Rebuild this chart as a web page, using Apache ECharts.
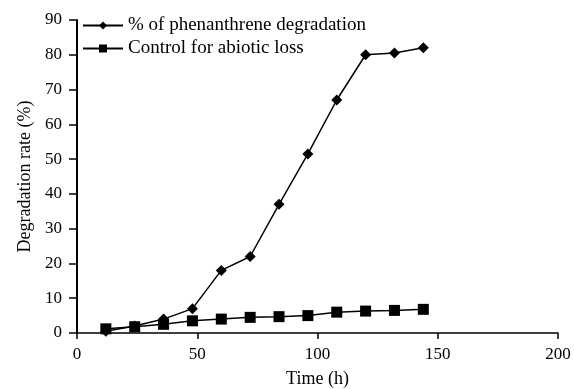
<!DOCTYPE html>
<html>
<head>
<meta charset="utf-8">
<script src="https://cdn.jsdelivr.net/npm/echarts@6/dist/echarts.min.js"></script>
<style>
  html, body { margin: 0; padding: 0; background: #fff; }
  #chart { width: 574px; height: 389px; }
</style>
</head>
<body>
<div id="chart"></div>
<script>
const times = [12, 24, 36, 48, 60, 72, 84, 96, 108, 120, 132, 144]
const degradation = [0.5, 2, 4, 7, 18, 22, 37, 51.5, 67, 80, 80.5, 82]
const control = [1.2, 1.8, 2.5, 3.5, 4, 4.5, 4.7, 5, 6, 6.3, 6.5, 6.8]

const font = "'Liberation Serif', 'Times New Roman', serif"
const pair = (xs, ys) => xs.map((x, i) => [x, ys[i]])

const axisLabel = { color: "#000", fontFamily: font, fontSize: 17 }

const chart = echarts.init(document.getElementById("chart"))
chart.setOption({
  animation: false,
  backgroundColor: "#fff",
  grid: { left: 77, right: 16, top: 20, bottom: 56, outerBoundsMode: "none", containLabel: false },
  legend: {
    orient: "vertical",
    left: 82,
    top: 16,
    padding: 0,
    itemWidth: 40,
    itemHeight: 10,
    itemGap: 4,
    textStyle: { color: "#000", fontFamily: font, fontSize: 19, lineHeight: 19 },
    data: ["% of phenanthrene degradation", "Control for abiotic loss"],
  },
  xAxis: {
    type: "value",
    min: 0,
    max: 200,
    interval: 50,
    name: "Time (h)",
    nameLocation: "middle",
    nameGap: 37,
    axisLine: { show: true, onZero: false, lineStyle: { color: "#000", width: 1.5 } },
    axisTick: { show: true, length: 6, lineStyle: { color: "#000", width: 1.5 } },
    axisLabel: { ...axisLabel, margin: 13 },
    splitLine: { show: false },
    nameTextStyle: { color: "#000", fontFamily: font, fontSize: 18 },
  },
  yAxis: {
    type: "value",
    min: 0,
    max: 90,
    interval: 10,
    name: "Degradation rate (%)",
    nameLocation: "middle",
    nameGap: 41,
    axisLine: { show: true, onZero: false, lineStyle: { color: "#000", width: 2 } },
    axisTick: { show: true, length: 8, lineStyle: { color: "#000", width: 1.5 } },
    axisLabel: { ...axisLabel, margin: 15 },
    splitLine: { show: false },
    nameTextStyle: { color: "#000", fontFamily: font, fontSize: 18 },
  },
  series: [
    {
      name: "% of phenanthrene degradation",
      type: "line",
      data: pair(times, degradation),
      symbol: "diamond",
      symbolSize: 11,
      lineStyle: { color: "#000", width: 1.5 },
      itemStyle: { color: "#000" },
    },
    {
      name: "Control for abiotic loss",
      type: "line",
      data: pair(times, control),
      symbol: "rect",
      symbolSize: 11,
      lineStyle: { color: "#000", width: 1.5 },
      itemStyle: { color: "#000" },
    },
  ],
})
</script>
</body>
</html>
